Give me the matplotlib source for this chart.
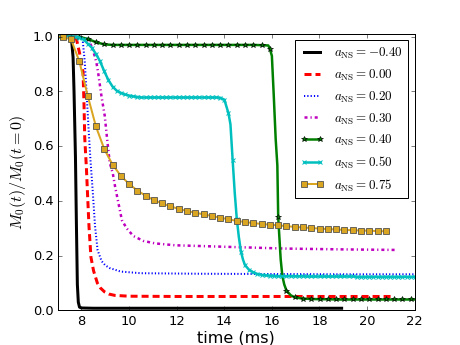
import numpy as np
import matplotlib
matplotlib.use("Agg")
import matplotlib.pyplot as plt

plt.style.use('classic')

# sampling grids of the marked runs (ms)
grid_t0 = 6.87
grid_dt = 0.348
fine_dt = 0.174

# a_NS = -0.40
black_t = [6.8, 7.3, 7.5, 7.58, 7.65, 7.69, 7.72, 7.75, 7.79, 7.83, 7.87, 7.92, 8.0, 8.5, 10.0, 14.0, 18.93]
black_y = [1.0, 1.0, 0.999, 0.995, 0.925, 0.80, 0.68, 0.56, 0.315, 0.095, 0.03, 0.012, 0.009, 0.008, 0.008, 0.008, 0.008]

# a_NS = 0.00
red_t = [6.8, 7.6, 7.79, 7.93, 8.07, 8.11, 8.14, 8.21, 8.26, 8.32, 8.40, 8.51, 8.67, 8.8, 8.97, 9.15, 9.4, 10.0, 12.0, 15.0, 18.0, 21.0]
red_y = [1.0, 0.999, 0.992, 0.937, 0.87, 0.75, 0.63, 0.52, 0.42, 0.305, 0.195, 0.145, 0.10, 0.082, 0.068, 0.06, 0.055, 0.052, 0.051, 0.051, 0.051, 0.051]

# a_NS = 0.20
blue_t = [6.8, 7.9, 8.05, 8.14, 8.22, 8.30, 8.38, 8.48, 8.57, 8.68, 8.85, 9.0, 9.18, 9.65, 10.5, 13.0, 16.0, 19.0, 22.3]
blue_y = [1.0, 1.0, 0.99, 0.91, 0.79, 0.665, 0.55, 0.43, 0.31, 0.22, 0.18, 0.165, 0.155, 0.142, 0.136, 0.134, 0.133, 0.132, 0.132]

# a_NS = 0.30
mag_t = [6.8, 7.9, 8.3, 8.49, 8.63, 8.70, 8.84, 8.98, 9.08, 9.19, 9.32, 9.42, 9.56, 9.70, 9.9, 10.18, 10.6, 11.09, 11.94, 14.26, 16.55, 19.0, 21.2]
mag_y = [1.0, 1.0, 0.99, 0.95, 0.906, 0.87, 0.784, 0.711, 0.626, 0.54, 0.50, 0.45, 0.39, 0.33, 0.30, 0.272, 0.254, 0.245, 0.238, 0.232, 0.226, 0.223, 0.221]

# a_NS = 0.40 (values on the 0.348 ms grid, plus extra samples in the collapse)
green_y = [1.0, 1.0, 1.0, 0.999, 0.992, 0.98, 0.972, 0.970, 0.970, 0.970,
           0.970, 0.970, 0.970, 0.970, 0.970, 0.970, 0.970, 0.970, 0.970, 0.970,
           0.970, 0.970, 0.970, 0.970, 0.970, 0.969, 0.955, 0.34, 0.072, 0.048,
           0.043, 0.042, 0.041, 0.041, 0.040, 0.040, 0.040, 0.040, 0.040, 0.040,
           0.040, 0.040, 0.040, 0.040, 0.040]
green_xt = [15.85, 16.0, 16.08, 16.16, 16.23, 16.37, 16.44, 16.52, 16.8]
green_xy = [0.968, 0.93, 0.784, 0.626, 0.53, 0.187, 0.126, 0.095, 0.055]

# a_NS = 0.50 (values on the 0.174 ms grid, plus extra samples in the collapse)
cyan_y = [1.0, 1.0, 1.0, 1.0, 1.0, 0.999, 0.997, 0.99, 0.975, 0.96,
          0.937, 0.91, 0.874, 0.842, 0.818, 0.803, 0.795, 0.789, 0.785, 0.782,
          0.780, 0.778, 0.778, 0.778, 0.778, 0.778, 0.778, 0.778, 0.778, 0.778,
          0.778, 0.778, 0.778, 0.778, 0.778, 0.778, 0.778, 0.778, 0.778, 0.778,
          0.777, 0.77, 0.72, 0.55, 0.335, 0.215, 0.165, 0.148, 0.139, 0.133,
          0.130, 0.128, 0.127, 0.126, 0.125, 0.125, 0.125, 0.125, 0.125, 0.125,
          0.125, 0.124, 0.124, 0.124, 0.124, 0.124, 0.124, 0.124, 0.124, 0.124,
          0.124, 0.124, 0.124, 0.123, 0.123, 0.123, 0.123, 0.123, 0.123, 0.123,
          0.123, 0.123, 0.123, 0.123, 0.123, 0.123, 0.123, 0.123, 0.123]
cyan_xt = [14.26, 14.44, 14.61, 14.79]
cyan_xy = [0.68, 0.43, 0.27, 0.185]

# a_NS = 0.75 (0.348 ms grid)
gold_y = [1.0, 0.999, 0.99, 0.91, 0.785, 0.672, 0.59, 0.533, 0.492, 0.462,
          0.438, 0.419, 0.403, 0.391, 0.380, 0.371, 0.363, 0.357, 0.351, 0.345,
          0.339, 0.333, 0.327, 0.323, 0.319, 0.316, 0.313, 0.311, 0.308, 0.305,
          0.303, 0.301, 0.299, 0.297, 0.296, 0.294, 0.293, 0.292, 0.291, 0.290,
          0.289]

labels = ['-0.40', '0.00', '0.20', '0.30', '0.40', '0.50', '0.75']


def merged(dt, ys, xt, xy):
    t = grid_t0 + dt * np.arange(len(ys))
    tt = np.concatenate([t, xt])
    yy = np.concatenate([ys, xy])
    mark = np.concatenate([np.ones(len(ys), bool), np.zeros(len(xt), bool)])
    order = np.argsort(tt)
    return tt[order], yy[order], mark[order]


fig = plt.figure(figsize=(6.4, 4.8), dpi=72, facecolor='white')
ax = fig.add_axes([0.125, 0.1, 0.775, 0.8])

lab = [r'$a_{\rm NS}=%s$' % s for s in labels]

ax.plot(black_t, black_y, color='k', lw=3, label=lab[0])
ax.plot(red_t, red_y, color='r', lw=3, dashes=(7, 4), label=lab[1])
ax.plot(blue_t, blue_y, color='b', lw=2, dashes=(1.2, 2.1), label=lab[2])
ax.plot(mag_t, mag_y, color='m', lw=2.5, dashes=(3, 3, 1.2, 3), label=lab[3])

t, y, m = merged(grid_dt, green_y, green_xt, green_xy)
ax.plot(t, y, color='g', lw=2.5, marker='*', ms=6, mfc='g', mec='k', mew=0.6,
        markevery=list(np.where(m)[0]), label=lab[4])

t, y, m = merged(fine_dt, cyan_y, cyan_xt, cyan_xy)
ax.plot(t, y, color='c', lw=2.5, marker='x', ms=4, mec='c', mew=1,
        markevery=list(np.where(m)[0]), label=lab[5])

gold_t = grid_t0 + grid_dt * np.arange(len(gold_y))
ax.plot(gold_t, gold_y, color='goldenrod', lw=2, marker='s', ms=6,
        mfc='goldenrod', mec='0.3', mew=0.8, label=lab[6])

ax.set_xlim(7, 22)
ax.set_ylim(0, 1.01)
ax.set_xticks([8, 10, 12, 14, 16, 18, 20, 22])
ax.set_yticks([0.0, 0.2, 0.4, 0.6, 0.8, 1.0])
ax.tick_params(labelsize=13)
ax.set_xlabel('time (ms)', fontsize=16, labelpad=2)
ax.set_ylabel(r'$M_0(t)/M_0(t=0)$', fontsize=16)
ax.legend(loc='upper right', fontsize=13, handlelength=1.8, numpoints=2)

fig.savefig('out.png', dpi=72, facecolor='white')
